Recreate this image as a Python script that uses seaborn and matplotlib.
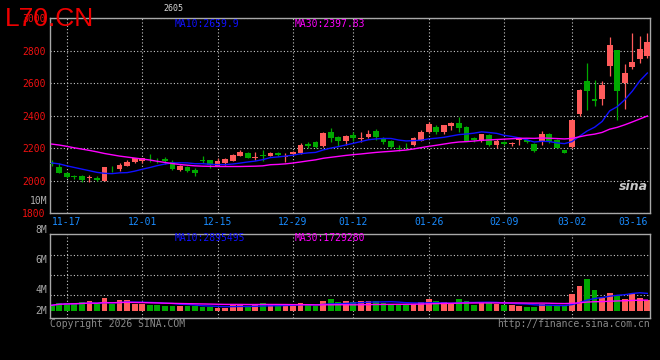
import numpy as np
import pandas as pd
import matplotlib
matplotlib.use("Agg")
import matplotlib.pyplot as plt
import seaborn as sns

# ---------------- data ----------------
dates = ["11-13", "11-14", "11-17", "11-18", "11-19", "11-20", "11-21", "11-24", "11-25", "11-26",
         "11-27", "11-28", "12-01", "12-02", "12-03", "12-04", "12-05", "12-08", "12-09", "12-10",
         "12-11", "12-12", "12-15", "12-16", "12-17", "12-18", "12-19", "12-22", "12-23", "12-24",
         "12-25", "12-26", "12-29", "12-30", "12-31", "01-05", "01-06", "01-07", "01-08", "01-09",
         "01-12", "01-13", "01-14", "01-15", "01-16", "01-19", "01-20", "01-21", "01-22", "01-23",
         "01-26", "01-27", "01-28", "01-29", "01-30", "02-02", "02-03", "02-04", "02-05", "02-06",
         "02-09", "02-10", "02-11", "02-12", "02-13", "02-24", "02-25", "02-26", "02-27", "03-02",
         "03-03", "03-04", "03-05", "03-06", "03-09", "03-10", "03-11", "03-12", "03-13", "03-16"]

opens = [2108, 2082, 2050, 2027, 2030, 2018, 2016, 2000, 2075, 2071,
         2093, 2114, 2120, 2136, 2130, 2133, 2114, 2068, 2085, 2067,
         2126, 2128, 2093, 2112, 2124, 2153, 2173, 2143, 2157, 2153,
         2173, 2148, 2165, 2170, 2226, 2236, 2216, 2302, 2271, 2242,
         2280, 2259, 2271, 2308, 2257, 2247, 2202, 2208, 2220, 2245,
         2298, 2333, 2300, 2337, 2353, 2333, 2262, 2242, 2280, 2220,
         2238, 2229, 2250, 2252, 2226, 2236, 2290, 2252, 2190, 2206,
         2410, 2615, 2505, 2504, 2707, 2806, 2601, 2702, 2750, 2770]
highs = [2128, 2108, 2052, 2035, 2036, 2036, 2032, 2085, 2093, 2108,
         2126, 2142, 2143, 2163, 2142, 2145, 2126, 2100, 2092, 2077,
         2155, 2130, 2139, 2142, 2165, 2190, 2180, 2175, 2190, 2179,
         2180, 2170, 2182, 2232, 2240, 2243, 2302, 2323, 2275, 2280,
         2302, 2298, 2312, 2320, 2272, 2250, 2220, 2230, 2270, 2310,
         2364, 2343, 2346, 2360, 2394, 2340, 2270, 2290, 2290, 2257,
         2245, 2241, 2261, 2258, 2230, 2305, 2295, 2256, 2192, 2374,
         2562, 2728, 2621, 2615, 2887, 2808, 2720, 2911, 2891, 2911]
lows = [2090, 2048, 2016, 2010, 1993, 1990, 2000, 1998, 2052, 2063,
        2092, 2112, 2110, 2118, 2110, 2102, 2068, 2062, 2052, 2032,
        2108, 2078, 2092, 2098, 2122, 2150, 2140, 2128, 2122, 2150,
        2150, 2118, 2160, 2168, 2200, 2200, 2210, 2240, 2216, 2218,
        2242, 2237, 2262, 2252, 2226, 2200, 2183, 2194, 2216, 2243,
        2296, 2285, 2290, 2312, 2298, 2245, 2240, 2240, 2215, 2200,
        2222, 2214, 2220, 2230, 2180, 2220, 2232, 2200, 2170, 2200,
        2397, 2438, 2458, 2464, 2647, 2372, 2440, 2688, 2723, 2754]
closes = [2104, 2050, 2022, 2025, 2008, 2022, 2008, 2083, 2070, 2098,
          2118, 2139, 2138, 2132, 2126, 2120, 2075, 2093, 2062, 2048,
          2122, 2098, 2122, 2133, 2159, 2179, 2143, 2147, 2153, 2173,
          2160, 2152, 2178, 2220, 2212, 2210, 2292, 2262, 2242, 2275,
          2262, 2263, 2288, 2272, 2238, 2210, 2198, 2205, 2261, 2298,
          2349, 2302, 2343, 2353, 2323, 2247, 2250, 2285, 2222, 2247,
          2228, 2232, 2254, 2236, 2186, 2290, 2236, 2204, 2174, 2372,
          2560, 2550, 2490, 2590, 2836, 2550, 2662, 2731, 2811, 2852]
# volume, millions of lots
volumes = [0.99, 1.34, 1.34, 1.34, 1.51, 1.69, 1.22, 2.21, 1.16, 1.86,
           1.86, 1.22, 1.16, 0.99, 0.99, 0.81, 0.81, 0.81, 0.81, 0.81,
           0.70, 0.70, 0.52, 0.52, 1.10, 1.10, 0.70, 1.16, 1.34, 1.16,
           0.81, 1.16, 0.81, 1.34, 1.16, 0.81, 1.69, 2.03, 1.51, 1.69,
           1.63, 1.69, 1.69, 1.69, 1.34, 1.16, 0.99, 0.99, 1.16, 1.51,
           2.03, 1.69, 1.51, 1.16, 2.03, 1.69, 0.99, 1.34, 1.34, 1.16,
           0.99, 0.99, 0.81, 0.70, 0.70, 1.16, 0.99, 0.81, 0.99, 2.91,
           4.30, 5.52, 3.60, 2.27, 3.08, 2.73, 2.03, 2.91, 2.21, 1.86]
# moving-average values before enough visible history exists
ma10_head = [2110, 2104, 2092, 2082, 2072, 2062, 2052, 2046, 2044]
ma30_head = [2226, 2220, 2212, 2203, 2195, 2187, 2178, 2168, 2160, 2152,
             2146, 2140, 2134, 2128, 2120, 2113, 2106, 2100, 2096, 2092,
             2090, 2089, 2088, 2088, 2088, 2088, 2089, 2090, 2092]
tick_dates = ["11-17", "12-01", "12-15", "12-29", "01-12", "01-26", "02-09", "03-02", "03-16"]
price_ticks = [1800, 2000, 2200, 2400, 2600, 2800, 3000]
vol_labels = ["8M", "6M", "4M", "2M"]

# ---------------- derived ----------------
idx = np.arange(len(dates))
o = np.array(opens, float); h = np.array(highs, float)
l = np.array(lows, float); c = np.array(closes, float)
up = c >= o
RED, GREEN = "#ff5b5b", "#00a800"
cols = np.where(up, RED, GREEN)

ma10 = pd.Series(c).rolling(10).mean().to_numpy()
ma10[:len(ma10_head)] = ma10_head
ma30 = pd.Series(c).rolling(30).mean().to_numpy()
ma30[:len(ma30_head)] = ma30_head
vol = np.array(volumes)
vma10 = pd.Series(vol).rolling(10, min_periods=1).mean().to_numpy()
vma30 = pd.Series(vol).rolling(30, min_periods=1).mean().to_numpy()

tick_pos = [dates.index(d) for d in tick_dates]

# ---------------- figure ----------------
W, H = 660, 360
fig = plt.figure(figsize=(6.6, 3.6), dpi=100, facecolor="black")
L, R = 50, 650
ax1 = fig.add_axes([L / W, 1 - 213.3 / H, (R - L) / W, 195 / H])
ax2 = fig.add_axes([L / W, 1 - 318.3 / H, (R - L) / W, 84 / H])
XLIM = (-0.23, 79.35)
MONO = "DejaVu Sans Mono"
GRID = dict(color="#c8c8c8", linestyle=(0, (1, 2)), linewidth=0.8)

for ax in (ax1, ax2):
    ax.set_facecolor("black")
    for s in ax.spines.values():
        s.set_color("#a8a8a8")
        s.set_linewidth(1.0)

# candles
ax1.vlines(idx, l, h, colors=cols, linewidth=0.9, zorder=2)
body = np.maximum(np.abs(c - o), 5)
ax1.bar(idx, body, bottom=np.minimum(o, c), width=0.76, color=cols, linewidth=0, zorder=3)
sns.lineplot(x=idx, y=ma10, ax=ax1, color="#1010ff", linewidth=1.0, zorder=4)
sns.lineplot(x=idx, y=ma30, ax=ax1, color="#ff00ff", linewidth=1.0, zorder=4)
ax1.set_xlim(*XLIM)
ax1.set_ylim(1800, 3000)
ax1.set_yticks(price_ticks)
ax1.set_yticklabels([str(p) for p in price_ticks], color="#f01010", fontsize=7, family=MONO)
ax1.set_xticks(tick_pos)
ax1.set_xticklabels(tick_dates, color="#1a8cff", fontsize=7, family=MONO)
ax1.get_xticklabels()[-1].set_horizontalalignment("right")
ax1.tick_params(length=0, pad=3)
ax1.set_xlabel(""); ax1.set_ylabel("")
ax1.grid(True, **GRID)
ax1.set_axisbelow(True)
ax1.get_xgridlines()[-1].set_visible(False)
fig.text(47 / W, 1 - 200.5 / H, "10M", ha="right", va="center", color="#b0b0b0",
         fontsize=7, family=MONO)

# volume
dirs = np.where(up, "up", "down")
sns.barplot(x=idx, y=vol, hue=dirs, palette={"up": RED, "down": GREEN}, dodge=False,
            width=0.76, saturation=1, errorbar=None, legend=False, linewidth=0, ax=ax2)
sns.lineplot(x=idx, y=vma10, ax=ax2, color="#1010ff", linewidth=1.0, zorder=4)
sns.lineplot(x=idx, y=vma30, ax=ax2, color="#ff00ff", linewidth=1.0, zorder=4)
ax2.set_xlim(*XLIM)
ax2.set_ylim(-1.27, 13.3)
ax2.set_yticks([2.73, 6.2, 9.67])
ax2.set_yticklabels([])
ax2.set_xticks(tick_pos)
ax2.set_xticklabels([])
ax2.tick_params(length=0)
ax2.set_xlabel(""); ax2.set_ylabel("")
ax2.grid(True, **GRID)
ax2.set_axisbelow(True)
ax2.get_xgridlines()[-1].set_visible(False)
for lab, ypix in zip(vol_labels, [230.3, 260, 290, 311]):
    fig.text(47 / W, 1 - ypix / H, lab, ha="right", va="center", color="#a8a8a8",
             fontsize=7, family=MONO)

# texts
fig.text(5 / W, 1 - 26 / H, "L70.CN", color="#ee0000", fontsize=19,
         family="Liberation Sans", va="baseline", ha="left")
fig.text(163 / W, 1 - 8.5 / H, "2605", color="#d8d8d8", fontsize=6, family=MONO, va="center")
fig.text(175 / W, 1 - 23.7 / H, "MA10:2659.9", color="#1010ff", fontsize=7, family=MONO, va="center")
fig.text(295 / W, 1 - 23.7 / H, "MA30:2397.83", color="#ff00ff", fontsize=7, family=MONO, va="center")
fig.text(175 / W, 1 - 238.3 / H, "MA10:2895495", color="#1010ff", fontsize=7, family=MONO, va="center")
fig.text(295 / W, 1 - 238.3 / H, "MA30:1729280", color="#ff00ff", fontsize=7, family=MONO, va="center")
fig.text(50 / W, 1 - 324 / H, "Copyright 2026 SINA.COM", color="#8a8a8a", fontsize=7,
         family=MONO, va="center")
fig.text(650 / W, 1 - 324 / H, "http://finance.sina.com.cn", color="#8a8a8a", fontsize=7,
         family=MONO, va="center", ha="right")
fig.text(633 / W, 1 - 186 / H, "sina", color="#c8c8c8", fontsize=9, style="italic",
         weight="bold", ha="center", va="center")

fig.savefig("out.png", dpi=100, facecolor="black")
